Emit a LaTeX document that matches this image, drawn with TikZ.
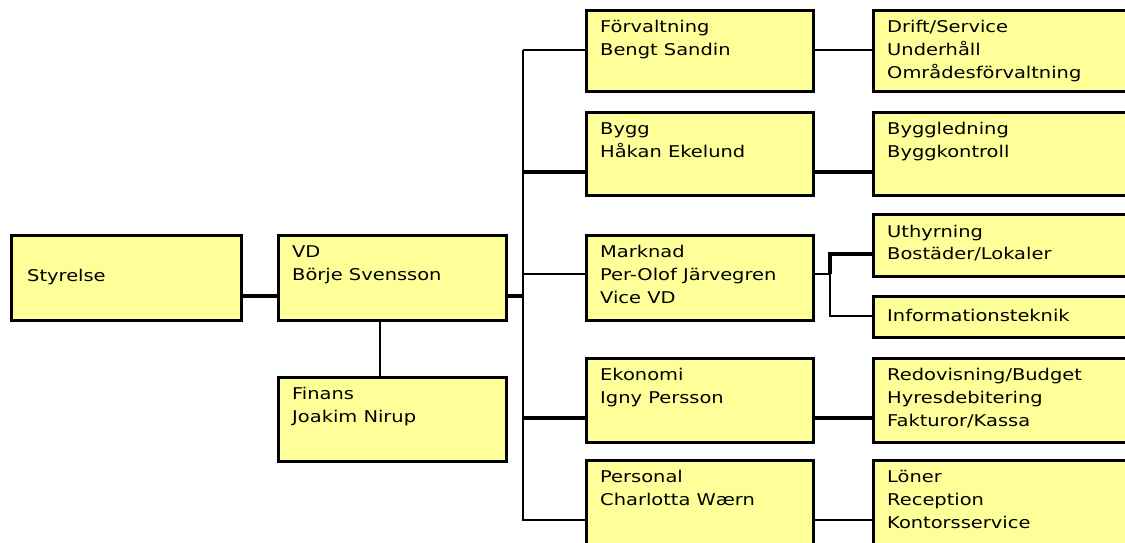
\documentclass[tikz,border=0pt]{standalone}
\usepackage{fontspec}
\setmainfont[FakeStretch=1.2]{DejaVu Sans}
\newcommand\boxlines[1]{\begin{tabular}[t]{@{}l@{}}#1\end{tabular}}
\begin{document}
\begin{tikzpicture}[x=1pt,y=-1pt,
  box/.style={draw=black, fill=boxyellow, line width=2.6pt, rectangle, inner sep=0pt, anchor=north west},
  txt/.style={anchor=base west, inner sep=0pt, font=\fontsize{16.2}{22.8}\selectfont, text=black},
  thin/.style={line width=2pt},
  thick/.style={line width=3.2pt}]
\definecolor{boxyellow}{HTML}{FFFF99}
\useasboundingbox (0,0) rectangle (1125,543);
\fill[white] (0,0) rectangle (1125,543);
% left column
\node[box, minimum width=230, minimum height=85] (sty) at (10,234) {};
\node[box, minimum width=228, minimum height=85] (vd) at (277,234) {};
\node[box, minimum width=228, minimum height=84] (fin) at (277,376) {};
% middle column
\node[box, minimum width=227, minimum height=81] (forv) at (585,9) {};
\node[box, minimum width=227, minimum height=83] (bygg) at (585,111) {};
\node[box, minimum width=227, minimum height=85] (mark) at (585,234) {};
\node[box, minimum width=227, minimum height=84] (eko) at (585,357) {};
\node[box, minimum width=227, minimum height=90] (pers) at (585,459) {};
% right column
\node[box, minimum width=260, minimum height=81] (drift) at (872,9) {};
\node[box, minimum width=260, minimum height=83] (bl) at (872,111) {};
\node[box, minimum width=260, minimum height=62] (uth) at (872,213) {};
\node[box, minimum width=260, minimum height=41] (info) at (872,295) {};
\node[box, minimum width=260, minimum height=84] (red) at (872,357) {};
\node[box, minimum width=260, minimum height=90] (lon) at (872,459) {};
% texts
\node[txt] at ([shift={(17,47)}]sty.north west) {Styrelse};
\node[txt] at ([shift={(15,23.5)}]vd.north west) {\boxlines{VD\\Börje Svensson}};
\node[txt] at ([shift={(15,23.5)}]fin.north west) {\boxlines{Finans\\Joakim Nirup}};
\node[txt] at ([shift={(15,23.5)}]forv.north west) {\boxlines{Förvaltning\\Bengt Sandin}};
\node[txt] at ([shift={(15,23.5)}]bygg.north west) {\boxlines{Bygg\\Håkan Ekelund}};
\node[txt] at ([shift={(15,23.5)}]mark.north west) {\boxlines{Marknad\\Per-Olof Järvegren\\Vice VD}};
\node[txt] at ([shift={(15,23.5)}]eko.north west) {\boxlines{Ekonomi\\Igny Persson}};
\node[txt] at ([shift={(15,23.5)}]pers.north west) {\boxlines{Personal\\Charlotta Wærn}};
\node[txt] at ([shift={(15,23.5)}]drift.north west) {\boxlines{Drift/Service\\Underhåll\\Områdesförvaltning}};
\node[txt] at ([shift={(15,23.5)}]bl.north west) {\boxlines{Byggledning\\Byggkontroll}};
\node[txt] at ([shift={(15,24)}]uth.north west) {\boxlines{Uthyrning\\Bostäder/Lokaler}};
\node[txt] at ([shift={(15,26.5)}]info.north west) {Informationsteknik};
\node[txt] at ([shift={(15,23.5)}]red.north west) {\boxlines{Redovisning/Budget\\Hyresdebitering\\Fakturor/Kassa}};
\node[txt] at ([shift={(15,23.5)}]lon.north west) {\boxlines{Löner\\Reception\\Kontorsservice}};
% connectors
\coordinate (trunk) at (523,296);
\coordinate (mj) at (830,274);
\draw[thick] (sty.east |- 0,296) -- (vd.west |- 0,296);
\draw[thin] (vd.south -| 380,0) -- (fin.north -| 380,0);
\draw[thick] (vd.east |- trunk) -- (trunk);
\draw[thin] (trunk |- 0,50) -- (trunk |- 0,521);
\draw[thin] (trunk |- 0,50) -- (forv.west |- 0,50);
\draw[thick] (trunk |- 0,172) -- (bygg.west |- 0,172);
\draw[thin] (trunk |- 0,274) -- (mark.west |- 0,274);
\draw[thick] (trunk |- 0,418) -- (eko.west |- 0,418);
\draw[thin] (trunk |- 0,520) -- (pers.west |- 0,520);
\draw[thin] (forv.east |- 0,50) -- (drift.west |- 0,50);
\draw[thick] (bygg.east |- 0,172) -- (bl.west |- 0,172);
\draw[thin] (mark.east |- mj) -- (mj);
\draw[thick] (mj) |- (uth.west |- 0,254);
\draw[thin] (mj) |- (info.west |- 0,316);
\draw[thick] (eko.east |- 0,418) -- (red.west |- 0,418);
\draw[thin] (pers.east |- 0,520) -- (lon.west |- 0,520);
\end{tikzpicture}
\end{document}
